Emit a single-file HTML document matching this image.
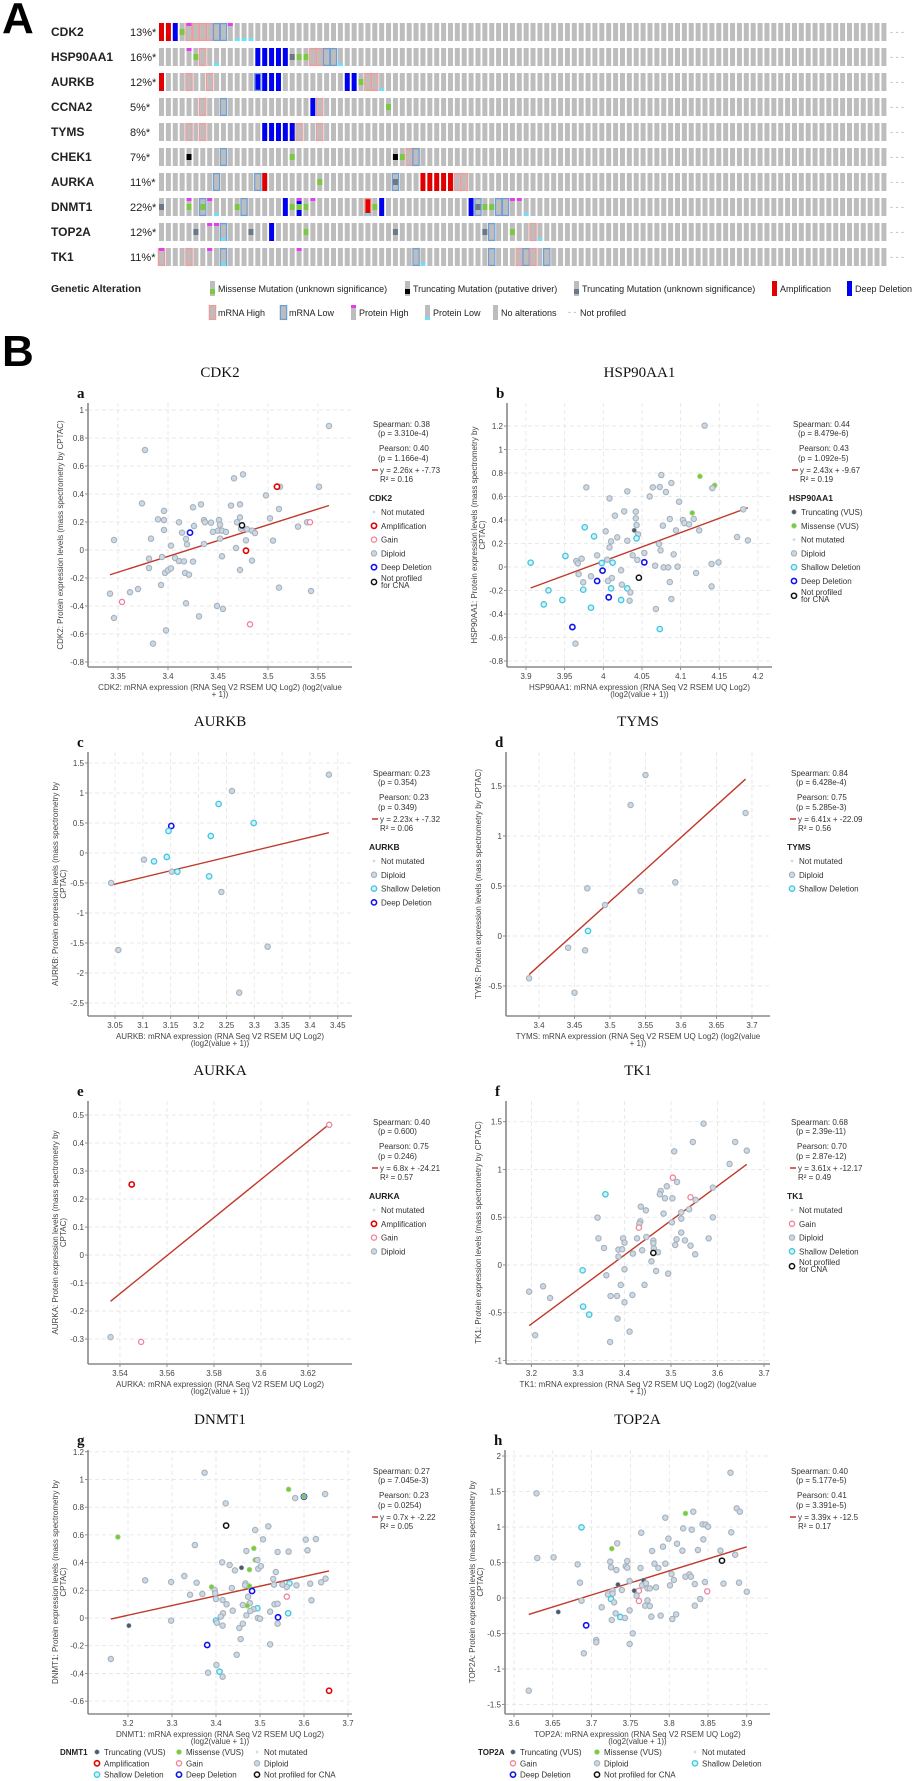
<!DOCTYPE html>
<html><head><meta charset="utf-8"><style>
html,body{margin:0;padding:0;background:#fff}
svg{display:block;font-family:"Liberation Sans",Arial,sans-serif}
</style></head><body>
<svg id="fig" width="916" height="1781" viewBox="0 0 916 1781"></svg>
<script>
// ---------------- Oncoprint data ----------------
const genes=["CDK2","HSP90AA1","AURKB","CCNA2","TYMS","CHEK1","AURKA","DNMT1","TOP2A","TK1"];
const genePct=["13%*","16%*","12%*","5%*","8%*","7%*","11%*","22%*","12%*","11%*"];
const ampCols=[[0,1],[],[0],[],[],[],[15,38,39,40,41,42],[30],[],[]];
const deepCols=[[2],[14,15,16,17,18],[14,15,16,17,27,28],[22],[15,16,17,18,19],[],[],[18,20,32,45],[16],[]];
const missCols=[[3],[5,20,21],[29],[33],[],[19,35],[23],[4,6,11,19,20,21,31,47,48],[21,51],[]];
const truncDrvCols=[[],[],[],[],[],[4,34],[],[],[],[]];
const truncUnkCols=[[],[19],[],[],[],[],[34],[0,46],[5,13,34,47],[]];
const mrnaHighCols=[[4,5,6,7],[6,22,23],[4,7,30,31],[6,23],[4,6,20,23],[36],[43,44],[30],[54],[0,4,52,54]];
const mrnaLowCols=[[8,9],[24,25],[14],[9],[],[9,37],[8,14,34],[6,12,46,49,50],[9,48],[9,37,48,53,56]];
const protHighCols=[[4,10],[4],[],[],[],[],[],[4,7,20,22,51,52],[7,8],[0,7,20]];
const protLowCols=[[11,12,13],[8,26],[32],[],[],[],[],[8,30,53],[9,55],[9,38]];
const nCols=106;

// ---------------- Scatter data ----------------
const aX=[3.561,3.377,3.466,3.475,3.512,3.509,3.551,3.498,3.374,3.433,3.425,3.463,3.472,3.396,3.511,3.390,3.396,3.411,3.436,3.443,3.451,3.472,3.469,3.502,3.426,3.452,3.396,3.414,3.422,3.437,3.445,3.450,3.454,3.458,3.473,3.479,3.484,3.487,3.474,3.530,3.539,3.542,3.346,3.383,3.418,3.419,3.436,3.452,3.478,3.505,3.403,3.468,3.478,3.381,3.394,3.407,3.411,3.416,3.425,3.454,3.484,3.381,3.397,3.400,3.403,3.417,3.421,3.472,3.342,3.362,3.370,3.393,3.511,3.543,3.354,3.418,3.449,3.455,3.346,3.431,3.482,3.398,3.385];
const aY=[0.886,0.714,0.512,0.540,0.452,0.452,0.452,0.390,0.333,0.326,0.305,0.317,0.326,0.279,0.293,0.219,0.214,0.198,0.214,0.195,0.214,0.233,0.198,0.226,0.171,0.181,0.143,0.124,0.124,0.198,0.129,0.138,0.138,0.129,0.152,0.148,0.138,0.121,0.176,0.167,0.198,0.198,0.071,0.081,0.079,0.040,0.043,0.081,0.069,0.067,0.031,0.014,-0.005,-0.062,-0.050,-0.057,-0.079,-0.081,-0.083,-0.045,-0.076,-0.129,-0.164,-0.145,-0.131,-0.164,-0.176,-0.143,-0.312,-0.302,-0.279,-0.250,-0.269,-0.293,-0.371,-0.381,-0.400,-0.421,-0.486,-0.474,-0.531,-0.574,-0.669];
const aT="dddddadddd"+"dddddddddd"+"ddddddddDd"+"ddddddddnd"+"dgdddddddd"+"ddaddddddd"+"dddddddddd"+"ddddgddddd"+"gdd";

const bX=[4.131,4.125,4.144,4.141,4.075,4.088,4.073,4.064,4.081,3.978,4.031,4.060,4.008,4.098,4.115,4.015,4.027,4.042,4.042,4.043,4.086,4.103,4.105,4.111,4.117,4.077,4.094,4.124,4.040,4.045,3.976,3.988,4.043,4.003,4.018,4.031,4.010,4.008,4.072,4.074,4.091,4.053,4.038,3.992,3.972,3.965,3.967,3.951,4.005,4.044,4.012,3.998,3.906,4.053,4.067,4.078,4.084,4.096,4.140,4.149,4.173,4.187,4.181,4.120,3.999,4.023,3.968,3.984,4.011,4.006,3.992,4.046,4.086,3.929,3.974,3.974,4.010,4.031,4.024,4.035,4.007,3.947,4.023,4.034,3.923,3.984,4.068,4.088,4.140,3.960,4.073,3.964];
const bY=[1.203,0.772,0.695,0.672,0.783,0.715,0.681,0.678,0.638,0.678,0.644,0.601,0.584,0.556,0.460,0.437,0.474,0.471,0.414,0.357,0.409,0.400,0.374,0.363,0.409,0.352,0.312,0.312,0.312,0.278,0.338,0.261,0.244,0.304,0.252,0.224,0.218,0.167,0.196,0.142,0.108,0.119,0.099,0.099,0.071,0.051,0.031,0.094,0.062,0.060,0.037,0.034,0.037,0.040,0.011,-0.003,-0.003,0.003,0.026,0.040,0.255,0.227,0.491,-0.051,-0.031,-0.028,-0.060,-0.079,-0.094,-0.119,-0.119,-0.091,-0.128,-0.199,-0.130,-0.193,-0.182,-0.182,-0.150,-0.216,-0.258,-0.281,-0.281,-0.287,-0.318,-0.346,-0.357,-0.272,-0.165,-0.511,-0.528,-0.652];
const bT="dmmddddddd"+"ddddmddddd"+"ddddddddtd"+"sssddddddd"+"dddddddsdd"+"sssDdddddd"+"ddddDddddd"+"Dndsdsssdd"+"DssdssdddD"+"sd";

const cX=[3.434,3.260,3.236,3.299,3.151,3.146,3.222,3.102,3.120,3.143,3.152,3.162,3.219,3.043,3.241,3.056,3.324,3.273];
const cY=[1.306,1.033,0.817,0.500,0.450,0.367,0.283,-0.111,-0.139,-0.067,-0.311,-0.311,-0.389,-0.500,-0.650,-1.617,-1.561,-2.328];
const cT="ddssDssdss"+"dssddddd";

const dX=[3.550,3.529,3.691,3.468,3.592,3.543,3.493,3.469,3.441,3.465,3.386,3.450];
const dY=[1.61,1.31,1.23,0.477,0.537,0.45,0.31,0.05,-0.117,-0.143,-0.423,-0.567];
const dT="dddddddsdddd";

const eX=[3.536,3.545,3.549,3.629];
const eY=[-0.293,0.252,-0.31,0.465];
const eT="dagg";

const fX=[3.570,3.547,3.638,3.507,3.663,3.626,3.504,3.513,3.590,3.491,3.478,3.476,3.487,3.503,3.542,3.553,3.359,3.435,3.446,3.539,3.522,3.484,3.342,3.590,3.522,3.434,3.432,3.502,3.431,3.522,3.344,3.397,3.400,3.427,3.447,3.462,3.462,3.512,3.530,3.581,3.356,3.387,3.395,3.387,3.438,3.418,3.463,3.472,3.462,3.509,3.542,3.552,3.458,3.400,3.468,3.494,3.310,3.361,3.443,3.392,3.195,3.225,3.240,3.370,3.384,3.417,3.400,3.311,3.324,3.385,3.411,3.208,3.369];
const fY=[1.480,1.288,1.288,1.190,1.197,1.058,0.914,0.869,0.810,0.824,0.775,0.740,0.698,0.698,0.709,0.681,0.740,0.611,0.572,0.583,0.551,0.538,0.496,0.499,0.485,0.457,0.433,0.447,0.391,0.339,0.279,0.279,0.234,0.279,0.293,0.255,0.227,0.269,0.258,0.279,0.178,0.161,0.164,0.087,0.154,0.119,0.175,0.133,0.126,0.209,0.202,0.112,0.038,-0.045,-0.063,-0.091,-0.056,-0.108,-0.209,-0.209,-0.279,-0.223,-0.346,-0.325,-0.325,-0.314,-0.391,-0.436,-0.520,-0.562,-0.698,-0.736,-0.806];
const fT="ddddddgddd"+"ddddgdsddd"+"ddddddddgd"+"dddddddddd"+"ddddddddnd"+"ddddddsddd"+"dddddddssd"+"ddd";

const gX=[3.374,3.565,3.580,3.600,3.600,3.648,3.422,3.423,3.519,3.489,3.177,3.507,3.604,3.627,3.352,3.486,3.469,3.540,3.565,3.608,3.489,3.494,3.414,3.431,3.443,3.458,3.476,3.496,3.502,3.536,3.328,3.239,3.298,3.356,3.530,3.467,3.466,3.476,3.532,3.551,3.567,3.561,3.583,3.614,3.639,3.649,3.390,3.397,3.398,3.436,3.482,3.341,3.369,3.400,3.415,3.424,3.473,3.477,3.461,3.471,3.561,3.617,3.533,3.540,3.494,3.485,3.478,3.438,3.416,3.411,3.564,3.523,3.469,3.495,3.500,3.541,3.298,3.400,3.402,3.202,3.415,3.461,3.453,3.540,3.456,3.380,3.523,3.447,3.161,3.401,3.382,3.408,3.415,3.657];
const gY=[1.049,0.929,0.866,0.876,0.876,0.895,0.828,0.667,0.662,0.635,0.585,0.568,0.566,0.570,0.527,0.503,0.484,0.477,0.479,0.489,0.419,0.419,0.402,0.383,0.344,0.363,0.349,0.356,0.375,0.332,0.303,0.272,0.260,0.255,0.282,0.250,0.236,0.231,0.241,0.241,0.250,0.224,0.236,0.248,0.258,0.284,0.224,0.202,0.178,0.217,0.195,0.168,0.173,0.137,0.130,0.099,0.154,0.108,0.094,0.089,0.154,0.128,0.099,0.103,0.070,0.063,0.051,0.053,0.034,0.010,0.034,0.046,0.019,0.000,-0.005,0.005,-0.019,-0.019,-0.034,-0.055,-0.055,-0.041,-0.072,-0.041,-0.152,-0.195,-0.190,-0.265,-0.296,-0.339,-0.395,-0.387,-0.424,-0.525];
const gT="dmdDmddndd"+"mddddmdddd"+"mddddtmddd"+"dddddddmdd"+"sdddddmddd"+"Dddddddddm"+"gdddsddddd"+"sddddDdsdt"+"dddddDdddd"+"dsda";

const hX=[3.879,3.629,3.887,3.891,3.831,3.821,3.795,3.687,3.818,3.829,3.843,3.847,3.850,3.880,3.764,3.799,3.844,3.733,3.810,3.792,3.726,3.778,3.817,3.837,3.866,3.630,3.651,3.885,3.868,3.682,3.724,3.746,3.725,3.732,3.744,3.746,3.763,3.781,3.795,3.786,3.803,3.806,3.821,3.826,3.828,3.685,3.734,3.767,3.749,3.765,3.770,3.772,3.775,3.783,3.801,3.833,3.846,3.870,3.890,3.900,3.849,3.727,3.739,3.755,3.761,3.721,3.727,3.758,3.725,3.687,3.729,3.761,3.772,3.769,3.775,3.840,3.833,3.713,3.749,3.657,3.731,3.809,3.789,3.777,3.737,3.743,3.804,3.726,3.693,3.753,3.706,3.706,3.749,3.690,3.619];
const hY=[1.765,1.474,1.263,1.216,1.216,1.192,1.131,0.995,0.981,0.962,1.038,1.033,1.005,0.925,0.920,0.836,0.826,0.770,0.765,0.723,0.695,0.662,0.667,0.676,0.667,0.563,0.573,0.610,0.526,0.474,0.512,0.521,0.432,0.394,0.446,0.427,0.423,0.484,0.484,0.423,0.338,0.254,0.300,0.333,0.300,0.216,0.188,0.249,0.239,0.178,0.207,0.136,0.136,0.150,0.178,0.197,0.225,0.202,0.216,0.089,0.094,0.103,0.113,0.103,0.103,0.052,0.061,0.033,-0.014,-0.038,-0.061,-0.042,-0.033,-0.108,-0.113,-0.014,-0.108,-0.131,-0.174,-0.197,-0.216,-0.230,-0.249,-0.263,-0.268,-0.282,-0.296,-0.310,-0.385,-0.498,-0.592,-0.624,-0.648,-0.779,-1.305];
const hT="dddddmdsdd"+"dddddddddd"+"mdddddddnd"+"dddddddddd"+"ddddddttdd"+"dddddddddd"+"gddtgdddsd"+"dgdddddddt"+"ddddsdddDd"+"ddddd";

const regSlope=[2.26,2.43,2.23,6.41,6.8,3.61,0.7,3.39];
const regIntercept=[-7.73,-9.67,-7.32,-22.09,-24.21,-12.17,-2.22,-12.5];
const spearmanR=["0.38","0.44","0.23","0.84","0.40","0.68","0.27","0.40"];
const spearmanP=["3.310e-4","8.479e-6","0.354","6.428e-4","0.600","2.39e-11","7.045e-3","5.177e-5"];
const pearsonR=["0.40","0.43","0.23","0.75","0.75","0.70","0.23","0.41"];
const pearsonP=["1.166e-4","1.092e-5","0.349","5.285e-3","0.246","2.87e-12","0.0254","3.391e-5"];
const rSquared=["0.16","0.19","0.06","0.56","0.57","0.49","0.05","0.17"];

const aXTicks=[3.35,3.4,3.45,3.5,3.55], aYTicks=[-0.8,-0.6,-0.4,-0.2,0,0.2,0.4,0.6,0.8,1];
const bXTicks=[3.9,3.95,4,4.05,4.1,4.15,4.2], bYTicks=[-0.8,-0.6,-0.4,-0.2,0,0.2,0.4,0.6,0.8,1,1.2];
const cXTicks=[3.05,3.1,3.15,3.2,3.25,3.3,3.35,3.4,3.45], cYTicks=[-2.5,-2,-1.5,-1,-0.5,0,0.5,1,1.5];
const dXTicks=[3.4,3.45,3.5,3.55,3.6,3.65,3.7], dYTicks=[-0.5,0,0.5,1,1.5];
const eXTicks=[3.54,3.56,3.58,3.6,3.62], eYTicks=[-0.3,-0.2,-0.1,0,0.1,0.2,0.3,0.4,0.5];
const fXTicks=[3.2,3.3,3.4,3.5,3.6,3.7], fYTicks=[-1,-0.5,0,0.5,1,1.5];
const gXTicks=[3.2,3.3,3.4,3.5,3.6,3.7], gYTicks=[-0.6,-0.4,-0.2,0,0.2,0.4,0.6,0.8,1,1.2];
const hXTicks=[3.6,3.65,3.7,3.75,3.8,3.85,3.9], hYTicks=[-1.5,-1,-0.5,0,0.5,1,1.5,2];

// ---------------- helpers ----------------
const NS='http://www.w3.org/2000/svg';
const svg=document.getElementById('fig');
function el(tag,parent,attrs){const e=document.createElementNS(NS,tag);for(const k in attrs)e.setAttribute(k,attrs[k]);parent.appendChild(e);return e;}
function txt(parent,x,y,s,attrs){const e=el('text',parent,Object.assign({x:x,y:y},attrs||{}));e.textContent=s;return e;}

// ---------------- Panel A ----------------
const gA=el('g',svg,{});


let t=txt(gA,2,33,"A",{'font-size':44,'font-weight':'bold',fill:'#000'});


const P=6.88,X0=159,BW=5,BH=18;
const C={gray:'#bdbdbd',amp:'#e00000',deep:'#0000f0',miss:'#7bc843',tdrv:'#000',tunk:'#6a7889',mh:'#f29a9a',ml:'#6d9ed6',ph:'#e63cf0',pl:'#6ee0fa'};
genes.forEach((gname,r)=>{
  const top=23+25*r;
  const row=el('g',gA,{});
  
  
  const lb=txt(row,51,top+13,gname,{'font-size':12,'font-weight':'bold',fill:'#222'});
  
  
  const pc=txt(row,130,top+13,genePct[r],{'font-size':11,fill:'#222'});
  
  
  for(let c=0;c<nCols;c++){
    const x=X0+c*P;
    let col=C.gray;
    if(ampCols[r].includes(c))col=C.amp;
    if(deepCols[r].includes(c))col=C.deep;
    const b=el('rect',row,{x:x,y:top,width:BW,height:BH,fill:col});
    
    
    if(mrnaHighCols[r].includes(c)){const o=el('rect',row,{x:x-0.6,y:top+0.6,width:BW+1.2,height:BH-1.2,fill:'none',stroke:C.mh,'stroke-width':1.3});}
    if(mrnaLowCols[r].includes(c)){const o=el('rect',row,{x:x-0.6,y:top+0.6,width:BW+1.2,height:BH-1.2,fill:'none',stroke:C.ml,'stroke-width':1.3});}
    if(missCols[r].includes(c)){const o=el('rect',row,{x:x,y:top+6,width:BW,height:6,fill:C.miss});}
    if(truncDrvCols[r].includes(c)){const o=el('rect',row,{x:x,y:top+6,width:BW,height:6,fill:C.tdrv});}
    if(truncUnkCols[r].includes(c)){const o=el('rect',row,{x:x,y:top+6,width:BW,height:6,fill:C.tunk});}
    if(protHighCols[r].includes(c)){const o=el('rect',row,{x:x,y:top,width:BW,height:3,fill:C.ph});}
    if(protLowCols[r].includes(c)){const o=el('rect',row,{x:x,y:top+BH-3,width:BW,height:3,fill:C.pl});}
  }
  const np=txt(row,890,top+12,"- - -",{'font-size':9,fill:'#aaa'});
  
  
});
// legend
const lgA=el('g',gA,{});


t=txt(lgA,51,292,"Genetic Alteration",{'font-size':10.5,'font-weight':'bold',fill:'#222'});


const legA=[
 [210,281,'miss',"Missense Mutation (unknown significance)"],
 [405,281,'tdrv',"Truncating Mutation (putative driver)"],
 [574,281,'tunk',"Truncating Mutation (unknown significance)"],
 [772,281,'amp',"Amplification"],
 [847,281,'deep',"Deep Deletion"],
 [210,305,'mh',"mRNA High"],
 [281,305,'ml',"mRNA Low"],
 [351,305,'ph',"Protein High"],
 [425,305,'pl',"Protein Low"],
 [493,305,'gray',"No alterations"],
 [570,305,'np',"Not profiled"]
];
legA.forEach(L=>{
  const [x,y,k,s]=L;
  const gi=el('g',lgA,{});
  
  
  if(k==='np'){el('text',gi,{x:x-2,y:y+10,'font-size':9,fill:'#aaa'}).textContent='- -';}
  else{
    let f=C.gray; if(k==='amp')f=C.amp; if(k==='deep')f=C.deep;
    el('rect',gi,{x:x,y:y,width:5,height:15,fill:f});
    if(k==='miss'||k==='tdrv'||k==='tunk')el('rect',gi,{x:x,y:y+8,width:5,height:5,fill:C[k]});
    if(k==='mh'||k==='ml')el('rect',gi,{x:x-0.6,y:y+0.6,width:6.2,height:13.8,fill:'none',stroke:C[k],'stroke-width':1.3});
    if(k==='ph')el('rect',gi,{x:x,y:y,width:5,height:3,fill:C.ph});
    if(k==='pl')el('rect',gi,{x:x,y:y+12,width:5,height:3,fill:C.pl});
  }
  txt(gi,x+(k==='np'?10:8),y+11,s,{'font-size':9,fill:'#222'});
});

// ---------------- Panel B ----------------
t=txt(svg,2,366,"B",{'font-size':44,'font-weight':'bold',fill:'#000'});



const styles={
 d:{r:2.7,fill:'#c9d9e8',stroke:'#a9b1b9',sw:1.1},
 a:{r:2.6,fill:'#fff',stroke:'#e00000',sw:1.6},
 g:{r:2.6,fill:'#fff',stroke:'#f0829a',sw:1.3},
 D:{r:2.6,fill:'#fff',stroke:'#1010ee',sw:1.6},
 s:{r:2.7,fill:'#d4eff5',stroke:'#3fc6de',sw:1.3},
 n:{r:2.6,fill:'#fff',stroke:'#111',sw:1.5},
 m:{r:2.4,fill:'#7ac943',stroke:'#a8d88a',sw:0.8},
 t:{r:2.2,fill:'#4b5a6b',stroke:'#8a96a3',sw:0.6},
 nm:{r:1.4,fill:'#bfe0f5',stroke:'none',sw:0}
};
const typeNames={d:'diploid',a:'amplification',g:'gain',D:'deep-deletion',s:'shallow-deletion',n:'not-profiled',m:'missense',t:'truncating',nm:'not-mutated'};
function marker(parent,x,y,k){const s=styles[k];return el('circle',parent,{cx:x,cy:y,r:s.r,fill:s.fill,stroke:s.stroke,'stroke-width':s.sw});}
function fmt(v){return String(+v.toFixed(2));}

const legendSets={
 a:[['nm','Not mutated'],['a','Amplification'],['g','Gain'],['d','Diploid'],['D','Deep Deletion'],['n','Not profiled|for CNA']],
 b:[['t','Truncating (VUS)'],['m','Missense (VUS)'],['nm','Not mutated'],['d','Diploid'],['s','Shallow Deletion'],['D','Deep Deletion'],['n','Not profiled|for CNA']],
 c:[['nm','Not mutated'],['d','Diploid'],['s','Shallow Deletion'],['D','Deep Deletion']],
 d:[['nm','Not mutated'],['d','Diploid'],['s','Shallow Deletion']],
 e:[['nm','Not mutated'],['a','Amplification'],['g','Gain'],['d','Diploid']],
 f:[['nm','Not mutated'],['g','Gain'],['d','Diploid'],['s','Shallow Deletion'],['n','Not profiled|for CNA']]
};
const bottomLegends={
 g:{hx:60,cols:[97,179,257],items:[[['t','Truncating (VUS)'],['a','Amplification'],['s','Shallow Deletion']],[['m','Missense (VUS)'],['g','Gain'],['D','Deep Deletion']],[['nm','Not mutated'],['d','Diploid'],['n','Not profiled for CNA']]]},
 h:{hx:478,cols:[513,597,695],items:[[['t','Truncating (VUS)'],['g','Gain'],['D','Deep Deletion']],[['m','Missense (VUS)'],['d','Diploid'],['n','Not profiled for CNA']],[['nm','Not mutated'],['s','Shallow Deletion']]]}
};

const charts=[
 {id:'a',gene:'CDK2',box:[88,403,352,667],xd:[3.32,3.584],yd:[-0.836,1.05],X:aX,Y:aY,T:aT,xt:aXTicks,yt:aYTicks,yl:["CDK2: Protein expression levels (mass spectrometry by CPTAC)"],xl:["CDK2: mRNA expression (RNA Seq V2 RSEM UQ Log2) (log2(value","+ 1))"]},
 {id:'b',gene:'HSP90AA1',box:[507,403,772,667],xd:[3.8754,4.2182],yd:[-0.851,1.396],X:bX,Y:bY,T:bT,xt:bXTicks,yt:bYTicks,yl:["HSP90AA1: Protein expression levels (mass spectrometry by","CPTAC)"],xl:["HSP90AA1: mRNA expression (RNA Seq V2 RSEM UQ Log2)","(log2(value + 1))"]},
 {id:'c',gene:'AURKB',box:[88,752,352,1016],xd:[3.0015,3.4755],yd:[-2.717,1.683],X:cX,Y:cY,T:cT,xt:cXTicks,yt:cYTicks,yl:["AURKB: Protein expression levels (mass spectrometry by","CPTAC)"],xl:["AURKB: mRNA expression (RNA Seq V2 RSEM UQ Log2)","(log2(value + 1))"]},
 {id:'d',gene:'TYMS',box:[506,752,770,1016],xd:[3.3535,3.7254],yd:[-0.8,1.84],X:dX,Y:dY,T:dT,xt:dXTicks,yt:dYTicks,yl:["TYMS: Protein expression levels (mass spectrometry by CPTAC)"],xl:["TYMS: mRNA expression (RNA Seq V2 RSEM UQ Log2) (log2(value","+ 1))"]},
 {id:'e',gene:'AURKA',box:[88,1101,352,1364],xd:[3.5264,3.6387],yd:[-0.389,0.55],X:eX,Y:eY,T:eT,xt:eXTicks,yt:eYTicks,yl:["AURKA: Protein expression levels (mass spectrometry by","CPTAC)"],xl:["AURKA: mRNA expression (RNA Seq V2 RSEM UQ Log2)","(log2(value + 1))"]},
 {id:'f',gene:'TK1',box:[506,1101,770,1364],xd:[3.1452,3.7129],yd:[-1.037,1.717],X:fX,Y:fY,T:fT,xt:fXTicks,yt:fYTicks,yl:["TK1: Protein expression levels (mass spectrometry by CPTAC)"],xl:["TK1: mRNA expression (RNA Seq V2 RSEM UQ Log2) (log2(value","+ 1))"]},
 {id:'g',gene:'DNMT1',box:[88,1450,352,1714],xd:[3.1091,3.7091],yd:[-0.693,1.213],X:gX,Y:gY,T:gT,xt:gXTicks,yt:gYTicks,yl:["DNMT1: Protein expression levels (mass spectrometry by","CPTAC)"],xl:["DNMT1: mRNA expression (RNA Seq V2 RSEM UQ Log2)","(log2(value + 1))"]},
 {id:'h',gene:'TOP2A',box:[505,1450,770,1714],xd:[3.5884,3.9299],yd:[-1.634,2.085],X:hX,Y:hY,T:hT,xt:hXTicks,yt:hYTicks,yl:["TOP2A: Protein expression levels (mass spectrometry by","CPTAC)"],xl:["TOP2A: mRNA expression (RNA Seq V2 RSEM UQ Log2)","(log2(value + 1))"]}
];

charts.forEach((ch,ci)=>{
  const [x0,y0,x1,y1]=ch.box;
  const sx=v=>x0+(v-ch.xd[0])/(ch.xd[1]-ch.xd[0])*(x1-x0);
  const sy=v=>y1-(v-ch.yd[0])/(ch.yd[1]-ch.yd[0])*(y1-y0);
  const cx=(x0+x1)/2;
  const G=el('g',svg,{});
  
  
  let e=txt(G,cx,y0-26,ch.gene,{'font-size':15,'font-family':'"Liberation Serif",serif','text-anchor':'middle',fill:'#111'});
  
  
  e=txt(G,x0-11,y0-5,ch.id,{'font-size':15,'font-weight':'bold','font-family':'"Liberation Serif",serif',fill:'#111'});
  
  
  ch.xt.forEach(v=>{
    const gl=el('line',G,{x1:sx(v),x2:sx(v),y1:y0,y2:y1,stroke:'#e4e4e4','stroke-dasharray':'4,3','stroke-width':0.8});
    
    
    const tk=el('line',G,{x1:sx(v),x2:sx(v),y1:y1,y2:y1+3,stroke:'#777','stroke-width':0.8});
    
    
    const tl=txt(G,sx(v),y1+12,fmt(v),{'font-size':8,'text-anchor':'middle',fill:'#444'});
    
    
  });
  ch.yt.forEach(v=>{
    const gl=el('line',G,{x1:x0,x2:x1,y1:sy(v),y2:sy(v),stroke:'#e4e4e4','stroke-dasharray':'4,3','stroke-width':0.8});
    
    
    const tk=el('line',G,{x1:x0-3,x2:x0,y1:sy(v),y2:sy(v),stroke:'#777','stroke-width':0.8});
    
    
    const tl=txt(G,x0-4,sy(v)+3,fmt(v),{'font-size':8,'text-anchor':'end',fill:'#444'});
    
    
  });
  e=el('line',G,{x1:x0,x2:x0,y1:y0,y2:y1,stroke:'#888','stroke-width':1.6});
  
  
  e=el('line',G,{x1:x0,x2:x1,y1:y1,y2:y1,stroke:'#888','stroke-width':1.6});
  
  
  const ym=(y0+y1)/2;
  const ylx=x0-(ch.yl.length===2?30:25);
  ch.yl.forEach((s,i)=>{
    const yy=txt(G,0,0,s,{'font-size':8,'text-anchor':'middle',fill:'#444',transform:'translate('+(ylx+i*8)+','+ym+') rotate(-90)'});
    
    
  });
  ch.xl.forEach((s,i)=>{
    const xx=txt(G,cx,y1+23+i*7,s,{'font-size':8,'text-anchor':'middle',fill:'#444'});
    
    
  });
  const xmin=Math.min(...ch.X), xmax=Math.max(...ch.X);
  e=el('line',G,{x1:sx(xmin),y1:sy(regSlope[ci]*xmin+regIntercept[ci]),x2:sx(xmax),y2:sy(regSlope[ci]*xmax+regIntercept[ci]),stroke:'#c0392b','stroke-width':1.4});
  
  
  ch.X.forEach((v,i)=>{
    const k=ch.T[i]||'d';
    const p=marker(G,sx(v),sy(ch.Y[i]),k);
    
    
  });
  const lx=x1+21;
  const S=el('g',G,{'font-size':8,fill:'#333'});
  
  
  txt(S,lx,y0+24,'Spearman: '+spearmanR[ci]);
  txt(S,lx+5,y0+33,'(p = '+spearmanP[ci]+')');
  txt(S,lx+6,y0+48,'Pearson: '+pearsonR[ci]);
  txt(S,lx+5,y0+58,'(p = '+pearsonP[ci]+')');
  el('line',S,{x1:lx-1,x2:lx+5,y1:y0+67,y2:y0+67,stroke:'#c0392b','stroke-width':1.5});
  txt(S,lx+7,y0+70,'y = '+regSlope[ci]+'x + '+regIntercept[ci]);
  txt(S,lx+7,y0+79,'R\u00b2 = '+rSquared[ci]);
  const ls=legendSets[ch.id];
  if(ls){
    const L=el('g',G,{'font-size':8,fill:'#333'});
    
    
    const hd=txt(L,lx-4,y0+98,ch.gene,{'font-size':8.5,'font-weight':'bold',fill:'#222'});
    
    
    ls.forEach((it,j)=>{
      const yy=y0+109+j*13.8;
      const gi=el('g',L,{});
      
      
      const parts=it[1].split('|');
      marker(gi,lx+1,yy+(parts.length>1?1:0),it[0]);
      parts.forEach((s,q)=>txt(gi,lx+8,yy+3-(parts.length>1?3:0)+q*7,s));
    });
  }
  const bl=bottomLegends[ch.id];
  if(bl){
    const L=el('g',G,{'font-size':8,fill:'#333'});
    
    
    const hd=txt(L,bl.hx,1755,ch.gene,{'font-size':8,'font-weight':'bold',fill:'#222'});
    
    
    bl.items.forEach((col,c)=>col.forEach((it,j)=>{
      const yy=1752+j*11.3;
      const gi=el('g',L,{});
      
      
      marker(gi,bl.cols[c],yy,it[0]);
      txt(gi,bl.cols[c]+7,yy+3,it[1]);
    }));
  }
});
</script>
</body></html>
